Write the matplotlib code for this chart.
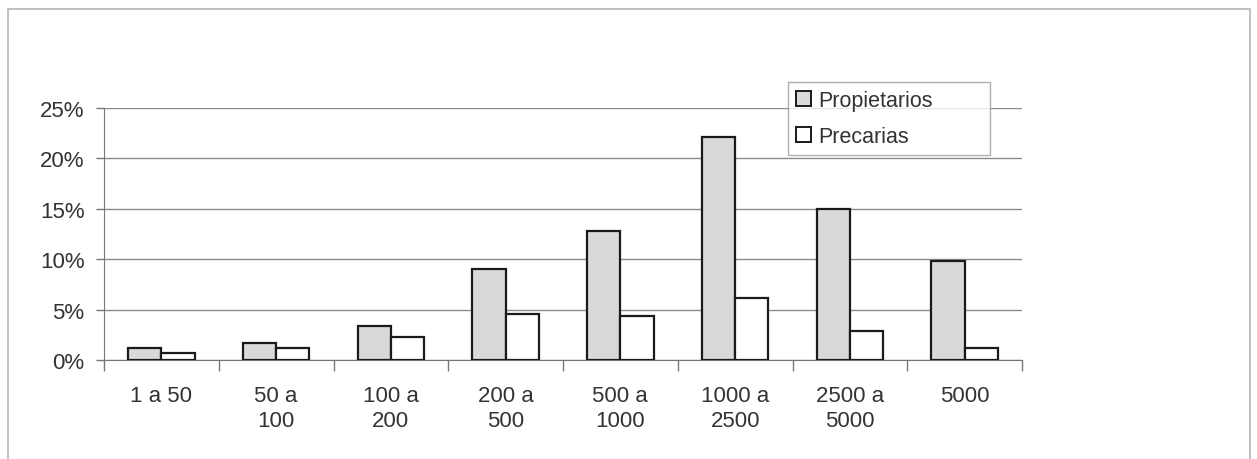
import numpy as np
import matplotlib.pyplot as plt
from matplotlib.patches import Rectangle
from matplotlib.ticker import FuncFormatter, FixedLocator

plt.rcParams['font.family'] = ['Liberation Sans', 'DejaVu Sans']

categorias = ["1 a 50", "50 a\n100", "100 a\n200", "200 a\n500", "500 a\n1000",
              "1000 a\n2500", "2500 a\n5000", "5000"]
propietarios = [1.2, 1.7, 3.4, 9.0, 12.8, 22.1, 15.0, 9.8]
precarias = [0.7, 1.2, 2.3, 4.6, 4.4, 6.2, 2.9, 1.2]

fig = plt.figure(figsize=(12.57, 4.6), dpi=100)
fig.patch.set_facecolor('white')

# marco exterior del grafico (escaneado)
fig.patches.append(Rectangle((8 / 1257, -0.05), 1242 / 1257, 1.05 - 10 / 460,
                             transform=fig.transFigure, fill=False,
                             edgecolor='#b5b5b5', linewidth=1.2))

ax = fig.add_axes([104 / 1257, 99 / 460, 918 / 1257, 252 / 460])

x = np.arange(len(categorias))
w = 0.29
ax.bar(x - w / 2, propietarios, w, color='#d9d9d9', edgecolor='#1a1a1a',
       linewidth=1.6, label='Propietarios', zorder=3)
ax.bar(x + w / 2, precarias, w, color='white', edgecolor='#1a1a1a',
       linewidth=1.6, label='Precarias', zorder=3)

ax.set_xlim(-0.5, len(categorias) - 0.5)
ax.set_ylim(0, 25)
ax.set_yticks(np.arange(0, 26, 5))
ax.yaxis.set_major_formatter(FuncFormatter(lambda v, p: f'{v:.0f}%'))
ax.yaxis.grid(True, color='#8a8a8a', linewidth=1.0, zorder=0)

ax.set_xticks(x)
ax.set_xticklabels(categorias, linespacing=1.28)
ax.xaxis.set_minor_locator(FixedLocator(np.arange(-0.5, len(categorias), 1)))
ax.tick_params(axis='x', which='major', length=0, pad=18)
ax.tick_params(axis='x', which='minor', length=8, color='#777777', width=1)
ax.tick_params(axis='y', length=6, color='#777777', width=1, pad=8)
for lab in ax.get_xticklabels() + ax.get_yticklabels():
    lab.set_fontsize(16)
    lab.set_color('#333333')

for s in ['top', 'right']:
    ax.spines[s].set_visible(False)
ax.spines['left'].set_color('#777777')
ax.spines['bottom'].set_color('#777777')

leg = ax.legend(loc='upper left', bbox_to_anchor=(0.745, 0.817, 0.22, 0.286),
                mode='expand', fontsize=15.5, frameon=True, fancybox=False,
                handlelength=0.7, handleheight=0.7, handletextpad=0.35,
                borderpad=0.38, labelspacing=0.7, borderaxespad=0)
leg.get_frame().set_edgecolor('#9a9a9a')
leg.get_frame().set_linewidth(1.0)
for h in leg.legend_handles:
    h.set_linewidth(1.4)
for t in leg.get_texts():
    t.set_color('#333333')

fig.savefig('out.png', dpi=100)
